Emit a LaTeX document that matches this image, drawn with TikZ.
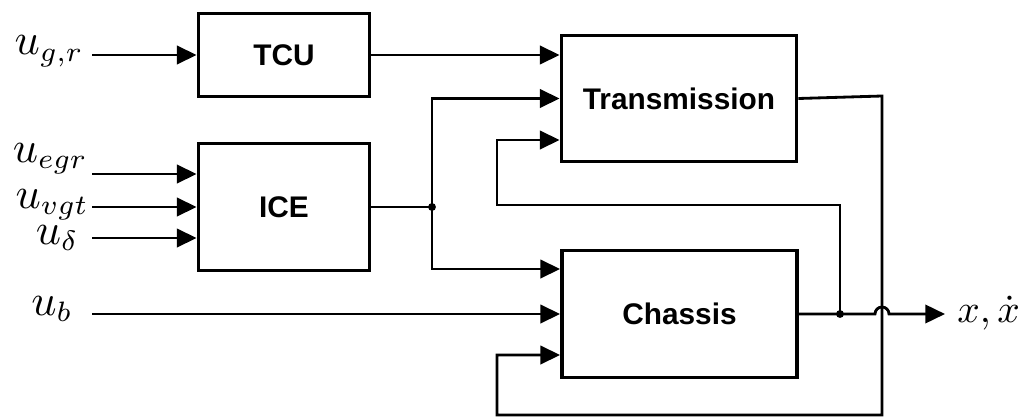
\documentclass[tikz,border=0pt]{standalone}
\usepackage{graphicx}
\usepackage{fontspec}
\newfontfamily\blockfont{Liberation Sans}
\usetikzlibrary{arrows.meta}
\newcommand{\biglbl}[2][2.85]{\scalebox{#1}{$#2$}}
\newcommand{\uin}{\scalebox{1.1}{$u$}}
\begin{document}
\begin{tikzpicture}[x=0.025cm,y=-0.025cm,
  blk/.style={draw,line width=2.5pt,inner sep=0pt,font=\blockfont\bfseries\fontsize{21.2}{24}\selectfont},
  wire/.style={line width=2pt},
  sig/.style={wire,-{Triangle[length=14pt,width=13pt]}},
  lbl/.style={inner sep=0pt}]
  \useasboundingbox (0,0) rectangle (1031,420);
  % blocks
  \node[blk,minimum width=4.28cm,minimum height=2.08cm] (tcu) at (284,55) {TCU};
  \node[blk,minimum width=4.28cm,minimum height=3.18cm] (ice) at (284,207) {ICE};
  \node[blk,minimum width=5.88cm,minimum height=3.15cm] (trans) at (679,98.5) {Transmission};
  \node[blk,minimum width=5.88cm,minimum height=3.18cm] (chassis) at (679.5,314) {Chassis};
  % inputs
  \coordinate (sgr) at (92,55);
  \coordinate (segr) at (92,174);
  \coordinate (svgt) at (92,207);
  \coordinate (sdel) at (92,238);
  \coordinate (sb) at (92,314);
  \node[lbl,anchor=base east] (ugr) at (84,55) {\biglbl{\uin_{g,r}}};
  \node[lbl,anchor=base east] (uegr) at (88,162) {\biglbl{\uin_{egr}}};
  \node[lbl,anchor=base east] (uvgt) at (89,208) {\biglbl{\uin_{vgt}}};
  \node[lbl,anchor=base east] (udel) at (79,244) {\biglbl{\uin_\delta}};
  \node[lbl,anchor=base east] (ub) at (73,315) {\biglbl{\uin_b}};
  \draw[sig] (sgr) -- (tcu);
  \draw[sig] (segr) -- (segr -| ice.west);
  \draw[sig] (svgt) -- (ice);
  \draw[sig] (sdel) -- (sdel -| ice.west);
  \draw[sig] (sb) -- (chassis);
  % TCU and ICE into the plant
  \coordinate (j1) at (432,207);
  \draw[sig] (tcu.east) -- (tcu.east -| trans.west);
  \draw[wire] (ice.east) -- (j1);
  \draw[sig] (j1) |- (trans.west);
  \draw[sig] (j1) |- ([shift={(0,-45)}]chassis.west);
  % feedback
  \coordinate (j2) at (840,314);
  \coordinate (fbt) at (497,205);
  \coordinate (cnr) at (882,96);
  \coordinate (fbc) at (497,415);
  \coordinate (out) at (945,314);
  \draw[sig] (j2) |- (fbt) |- ([shift={(0,41.5)}]trans.west);
  \draw[sig] (trans.east) -- (cnr) |- (fbc) |- ([shift={(0,41)}]chassis.west);
  \draw[sig] (chassis.east) -- (j2) -- (875,314) arc[start angle=180,end angle=0,radius=0.175cm] -- (out);
  \fill (j1) circle (2.8pt);
  \fill (j2) circle (2.8pt);
  \node[lbl,anchor=base west] (xout) at (957,322) {\biglbl[2.8]{x,\dot{x}}};
\end{tikzpicture}
\end{document}
